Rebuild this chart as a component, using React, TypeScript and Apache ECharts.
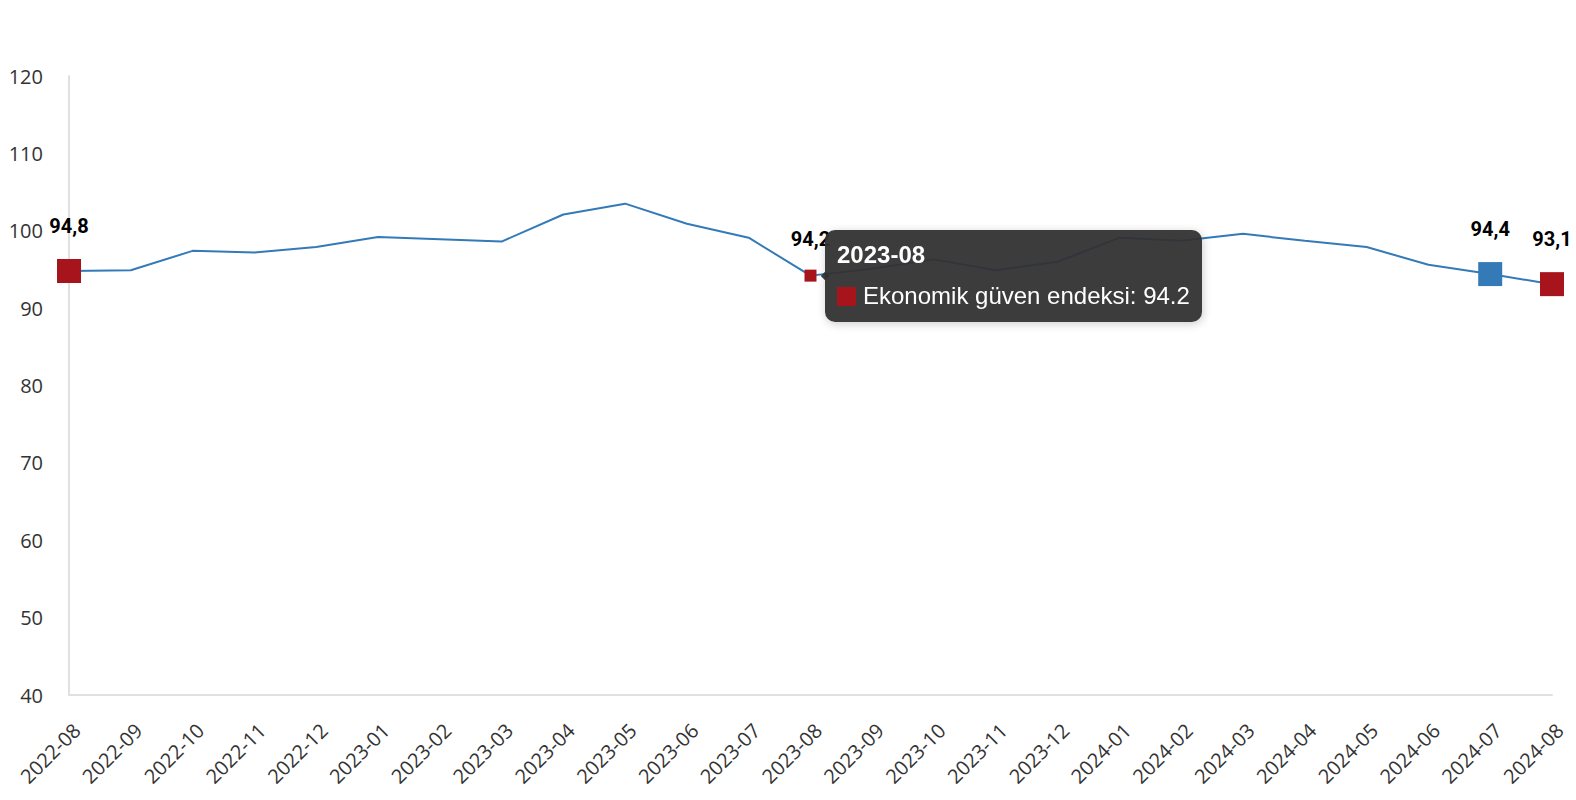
import React, { useEffect, useRef } from "react";
import * as echarts from "echarts";

const categories = [
  "2022-08", "2022-09", "2022-10", "2022-11", "2022-12",
  "2023-01", "2023-02", "2023-03", "2023-04", "2023-05", "2023-06", "2023-07",
  "2023-08", "2023-09", "2023-10", "2023-11", "2023-12",
  "2024-01", "2024-02", "2024-03", "2024-04", "2024-05", "2024-06", "2024-07", "2024-08",
];
const values = [
  94.8, 94.9, 97.4, 97.2, 97.9,
  99.2, 98.9, 98.6, 102.1, 103.5, 100.9, 99.1,
  94.2, 95.1, 96.3, 94.9, 96.0,
  99.1, 98.7, 99.6, 98.7, 97.9, 95.6, 94.4, 93.1,
];
const seriesName = "Ekonomik güven endeksi";
const yTicks = { min: 40, max: 120, interval: 10 };
const highlighted: Record<number, { color: string; size: number }> = {
  0: { color: "#a8141c", size: 24 },
  12: { color: "#a8141c", size: 12 },
  23: { color: "#337ab7", size: 24 },
  24: { color: "#a8141c", size: 24 },
};

export default function App() {
  const ref = useRef<HTMLDivElement>(null);
  useEffect(() => {
    document.body.style.margin = "0";
    const chart = echarts.init(ref.current!, null, { renderer: "svg" });
    const data = values.map((v, i) => {
      const h = highlighted[i];
      if (!h) return { value: v, symbolSize: 0, label: { show: false } };
      return {
        value: v,
        symbol: "rect",
        symbolSize: h.size,
        itemStyle: { color: h.color },
        label: {
          show: true,
          position: "top",
          distance: i === 12 ? 21 : 23,
          formatter: (p: any) => String(p.value).replace(".", ","),
          color: "#000",
          fontWeight: "bold",
          fontSize: 20,
          fontFamily: "Roboto, Arial, sans-serif",
        },
      };
    });
    chart.setOption({
      animation: false,
      grid: { left: 69, right: 24, top: 76, bottom: 105, containLabel: false, outerBoundsMode: "none" },
      tooltip: {
        trigger: "item",
        position: "right",
        backgroundColor: "rgba(50,50,50,0.95)",
        borderWidth: 0,
        padding: [10, 12, 0, 12],
        extraCssText: "border-radius:10px;",
        textStyle: { color: "#fff", fontSize: 24, fontFamily: "Arial, 'Liberation Sans', sans-serif" },
        formatter: (p: any) =>
          `<div style="font-weight:bold;font-size:24px;line-height:30px">${p.name}</div>` +
          `<div style="font-size:24px;line-height:52px"><span style="display:inline-block;width:19px;height:19px;background:${p.color};margin-right:7px;vertical-align:-2px"></span>${seriesName}: ${p.value}</div>`,
      },
      xAxis: {
        type: "category",
        data: categories,
        boundaryGap: false,
        axisLine: { lineStyle: { color: "#e0e0e0", width: 2 } },
        axisTick: { show: false },
        axisLabel: {
          rotate: 45,
          interval: 0,
          margin: 24,
          lineHeight: 22,
          formatter: (v: string) => "\n" + v,
          color: "#333",
          fontSize: 20,
          fontFamily: "'Open Sans', sans-serif",
        },
      },
      yAxis: {
        type: "value",
        min: yTicks.min,
        max: yTicks.max,
        interval: yTicks.interval,
        axisLine: { show: true, lineStyle: { color: "#e0e0e0", width: 2 } },
        axisTick: { show: false },
        splitLine: { show: false },
        axisLabel: {
          margin: 26,
          color: "#333",
          fontSize: 20,
          fontFamily: "'Open Sans', sans-serif",
        },
      },
      series: [
        {
          name: seriesName,
          type: "line",
          data,
          showSymbol: true,
          symbol: "rect",
          lineStyle: { color: "#337ab7", width: 2 },
          itemStyle: { color: "#337ab7" },
          emphasis: { disabled: true },
        },
      ],
    });
    chart.dispatchAction({ type: "showTip", seriesIndex: 0, dataIndex: 12 });
    return () => chart.dispose();
  }, []);
  return <div ref={ref} style={{ width: "1576px", height: "800px" }} />;
}
